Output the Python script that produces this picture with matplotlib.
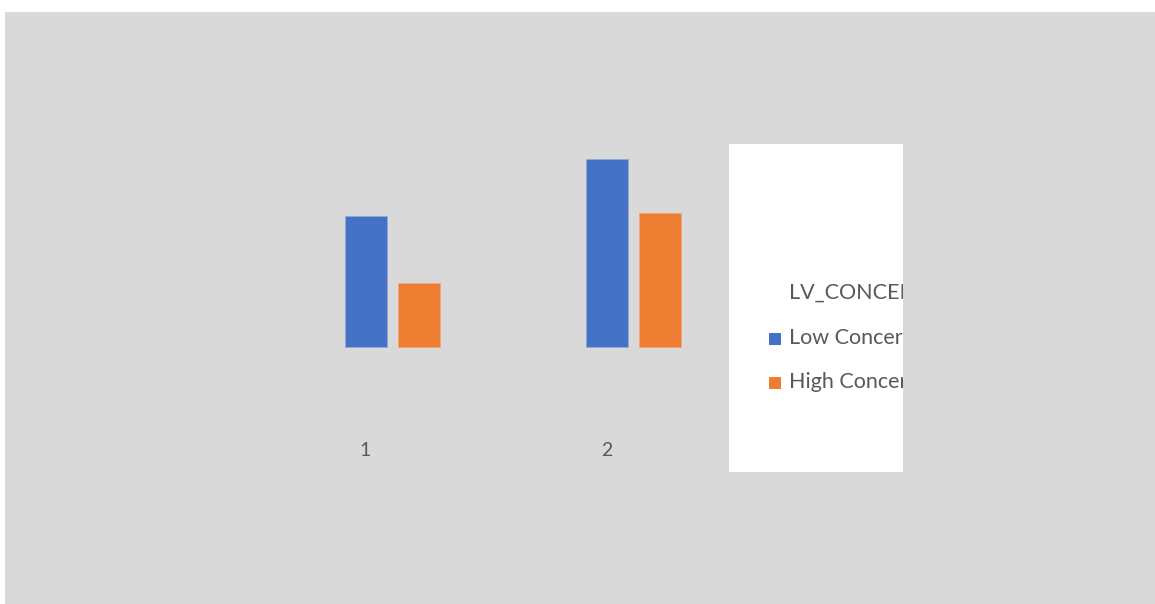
import matplotlib
matplotlib.use("Agg")
import matplotlib.pyplot as plt
from matplotlib.patches import Rectangle
from matplotlib.transforms import Bbox

categories = [1, 2]
cat_labels = ["1", "2"]
low_concern = [2.79, 4.00]
high_concern = [1.36, 2.85]
series_names = ["Low Concern", "High Concern"]
legend_title = "LV_CONCERN"

C_LOW = "#4472C4"
C_HIGH = "#ED7D31"
C_TEXT = "#595959"
C_BG = "#D9D9D9"

plt.rcParams["font.family"] = ["Lato", "DejaVu Sans"]

W, H = 1155, 604
fig = plt.figure(figsize=(W / 100, H / 100), dpi=100)
fig.patch.set_facecolor("white")

# chart area (gray), pixel box x 5..1155, y 12..604 from top
ax = fig.add_axes([5 / W, 0, 1 - 5 / W, 1 - 12 / H])
ax.set_facecolor(C_BG)
for s in ax.spines.values():
    s.set_visible(False)

# data <-> pixel mapping: category spacing 241 px, label "1" at px 365.5; baseline px 347, 47 px per unit
px_cat, x0 = 241.0, 365.5
ax.set_xlim((5 - x0) / px_cat + 1, (W - x0) / px_cat + 1)
ppu, base = 47.0, 347.0
ax.set_ylim(-(H - base) / ppu, (base - 12) / ppu)

bw = 42 / px_cat
step = 53 / px_cat
ax.bar(categories, low_concern, bw, color=C_LOW, edgecolor="#8FA9DA", linewidth=0.6)
ax.bar([c + step for c in categories], high_concern, bw, color=C_HIGH, edgecolor="#F2A678", linewidth=0.6)

ax.set_xticks([])
ax.set_yticks([])
for c, t in zip(categories, cat_labels):
    ax.text(c, -(450 - base) / ppu, t, ha="center", va="center", fontsize=14, color=C_TEXT)

# legend box (white), clipped at right edge like the reference
lx0, lx1, ly0, ly1 = 729, 903, 144, 472
fig.patches.append(Rectangle((lx0 / W, 1 - ly1 / H), (lx1 - lx0) / W, (ly1 - ly0) / H,
                             transform=fig.transFigure, facecolor="white", edgecolor="none", zorder=1))
clip = Bbox.from_extents(lx0, H - ly1, lx1, H - ly0)

t = fig.text(789 / W, 1 - 293 / H, legend_title, ha="left", va="center", fontsize=15.5, color=C_TEXT, zorder=3)
t.set_clip_box(clip)
t.set_clip_on(True)
for name, col, yc in zip(series_names, [C_LOW, C_HIGH], [339, 383]):
    fig.patches.append(Rectangle((769 / W, 1 - (yc + 6) / H), 12 / W, 12 / H,
                                 transform=fig.transFigure, facecolor=col, edgecolor="none", zorder=3))
    tt = fig.text(789 / W, 1 - (yc - 1) / H, name, ha="left", va="center", fontsize=15.5, color=C_TEXT, zorder=3)
    tt.set_clip_box(clip)
    tt.set_clip_on(True)

fig.savefig("out.png", dpi=100)
